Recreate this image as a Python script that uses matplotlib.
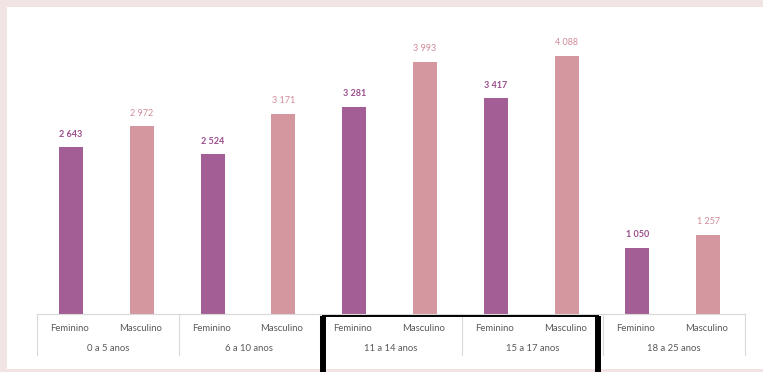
import matplotlib.pyplot as plt
from matplotlib.patches import Rectangle
import numpy as np

plt.rcParams["font.family"] = ["Lato", "DejaVu Sans"]

groups = ["0 a 5 anos", "6 a 10 anos", "11 a 14 anos", "15 a 17 anos", "18 a 25 anos"]
series = ["Feminino", "Masculino"]
feminino = [2643, 2524, 3281, 3417, 1050]
masculino = [2972, 3171, 3993, 4088, 1257]
highlight = (2, 3)  # groups boxed in black

c_fem = "#a45e96"
c_mas = "#d4969f"
c_fem_txt = "#9a4e8c"
c_mas_txt = "#d08c99"
c_axis = "#d9d9d9"
c_label = "#595959"

W, H = 763, 372
fig = plt.figure(figsize=(W / 100, H / 100), dpi=100, facecolor="#f2e4e4")
# white slide area behind the chart
fig.patches.append(Rectangle((7 / W, 1 - 369 / H), 1, (369 - 7) / H,
                             transform=fig.transFigure, facecolor="white",
                             edgecolor="none", zorder=-5))

ax = fig.add_axes([37 / W, 1 - 314 / H, (745 - 37) / W, (314 - 20) / H])
ax.set_zorder(1)
ax.patch.set_visible(False)

n = len(groups)
slots = np.arange(n * 2)
fem_x = slots[0::2] + 0.48
mas_x = slots[1::2] + 0.48
bw = 0.34

ax.bar(fem_x, feminino, width=bw, color=c_fem, zorder=2)
ax.bar(mas_x, masculino, width=bw, color=c_mas, zorder=2)

for x, v in zip(fem_x, feminino):
    ax.annotate(f"{v:,}".replace(",", " "), (x, v), xytext=(0, 6),
                textcoords="offset points", ha="center", va="bottom",
                fontsize=6.5, color=c_fem_txt, fontweight="bold")
for x, v in zip(mas_x, masculino):
    ax.annotate(f"{v:,}".replace(",", " "), (x, v), xytext=(0, 6),
                textcoords="offset points", ha="center", va="bottom",
                fontsize=6.5, color=c_mas_txt)

ax.set_xlim(0, n * 2)
ax.set_ylim(0, 4652)
for s in ax.spines.values():
    s.set_visible(False)
ax.set_xticks([])
ax.set_yticks([])

# category axis: baseline, separators and two label rows
tr = ax.get_xaxis_transform()
ax.plot([0, n * 2], [0, 0], transform=tr, color=c_axis, lw=0.8, clip_on=False)
for b in range(n + 1):
    ax.plot([b * 2, b * 2], [0, -0.139], transform=tr, color=c_axis, lw=0.8,
            clip_on=False)
for i, g in enumerate(groups):
    ax.text(fem_x[i] - 0.02, -0.048, series[0], transform=tr, ha="center",
            va="center", fontsize=6.8, color=c_label)
    ax.text(mas_x[i] - 0.02, -0.048, series[1], transform=tr, ha="center",
            va="center", fontsize=6.8, color=c_label)
    ax.text(i * 2 + 1, -0.119, g, transform=tr, ha="center", va="center",
            fontsize=6.8, color=c_label)

# black highlight box around the middle groups
x0 = highlight[0] * 2 + 0.04
x1 = (highlight[1] + 1) * 2 - 0.07
ax.plot([x0, x0], [-0.007, -0.3], transform=tr, color="black", lw=4.3,
        clip_on=False, solid_capstyle="butt")
ax.plot([x1, x1], [-0.007, -0.3], transform=tr, color="black", lw=4.3,
        clip_on=False, solid_capstyle="butt")
ax.plot([x0, x1], [-0.007, -0.007], transform=tr, color="black", lw=1.4,
        clip_on=False)

fig.savefig("out.png", dpi=100, facecolor=fig.get_facecolor())
